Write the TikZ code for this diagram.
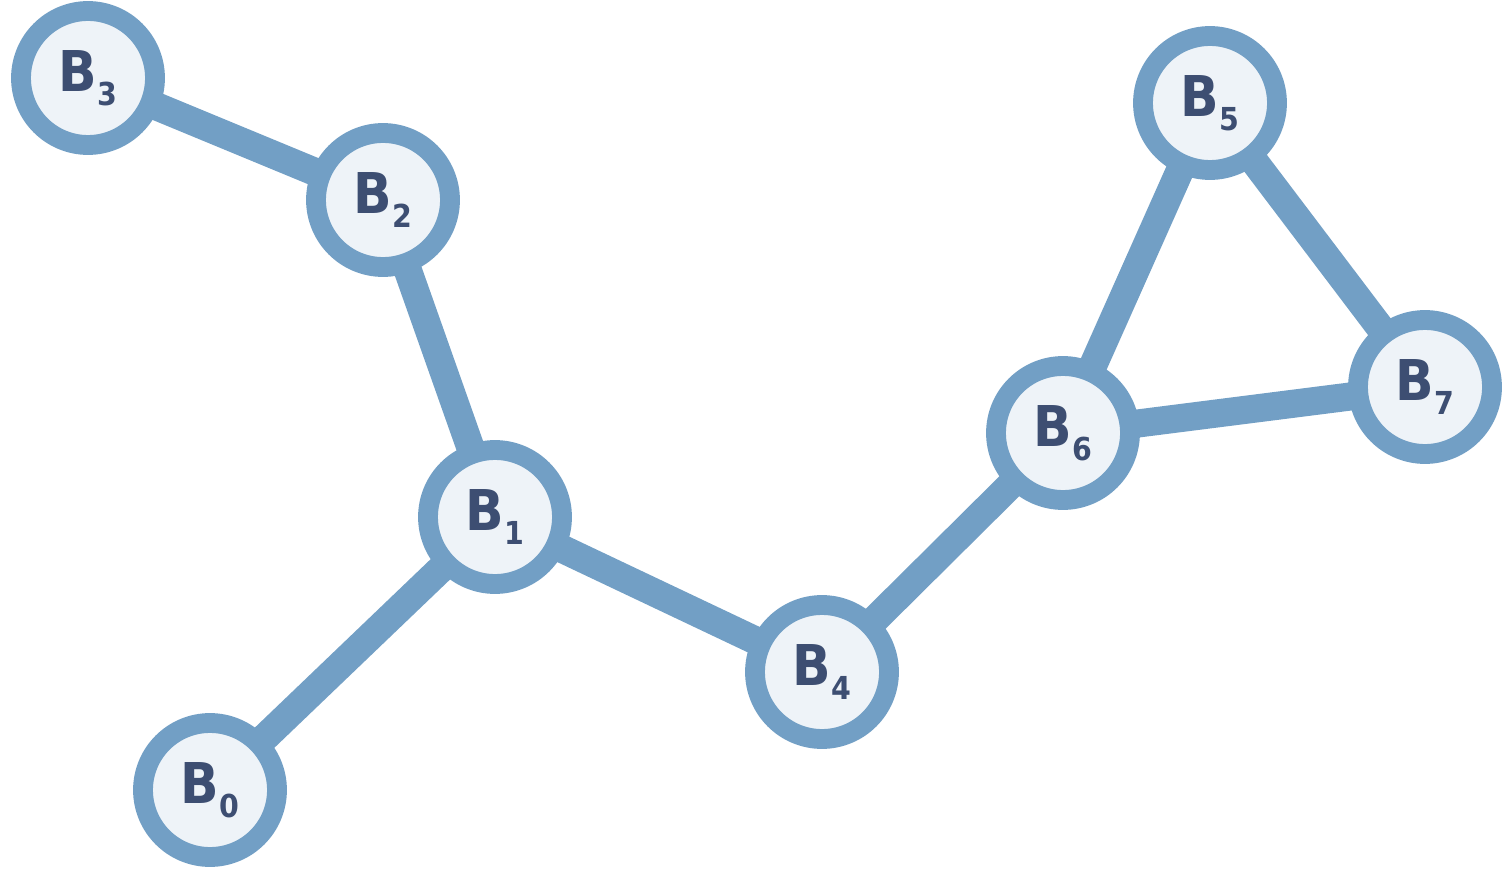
\documentclass[tikz,border=0pt]{standalone}
\usepackage{fontspec}
\setsansfont{DejaVu Sans Condensed}
\usetikzlibrary{backgrounds}
\definecolor{ring}{HTML}{729FC5}
\definecolor{core}{HTML}{EEF3F8}
\definecolor{label}{HTML}{3D4E72}
\newcommand{\blab}[1]{B\kern0.5pt\raisebox{-8pt}{\fontsize{18}{18}\selectfont #1}}

\begin{document}
\begin{tikzpicture}[
  x=0.02cm, y=-0.02cm,
  bead/.style={circle, fill=core, draw=ring, line width=11.3pt,
               minimum size=2.68cm, inner sep=0pt, text=label,
               font=\sffamily\bfseries\fontsize{32}{32}\selectfont},
  bond/.style={ring, line width=16pt}
]
  \useasboundingbox (0,0) rectangle (1502,875);

  \node[bead] (b3) at (88,78) {\blab{3}};
  \node[bead] (b2) at (383,200) {\blab{2}};
  \node[bead] (b1) at (495,517) {\blab{1}};
  \node[bead] (b0) at (210,790) {\blab{0}};
  \node[bead] (b4) at (822,672) {\blab{4}};
  \node[bead] (b6) at (1063,433) {\blab{6}};
  \node[bead] (b5) at (1210,103) {\blab{5}};
  \node[bead] (b7) at (1425,387) {\blab{7}};

  \begin{scope}[on background layer]
    \draw[bond] (b3.center) -- (b2.center) -- (b1.center) -- (b4.center) -- (b6.center);
    \draw[bond] (b1.center) -- (b0.center);
    \draw[bond] (b6.center) -- (b5.center) -- (b7.center) -- (b6.center);
  \end{scope}
\end{tikzpicture}
\end{document}
